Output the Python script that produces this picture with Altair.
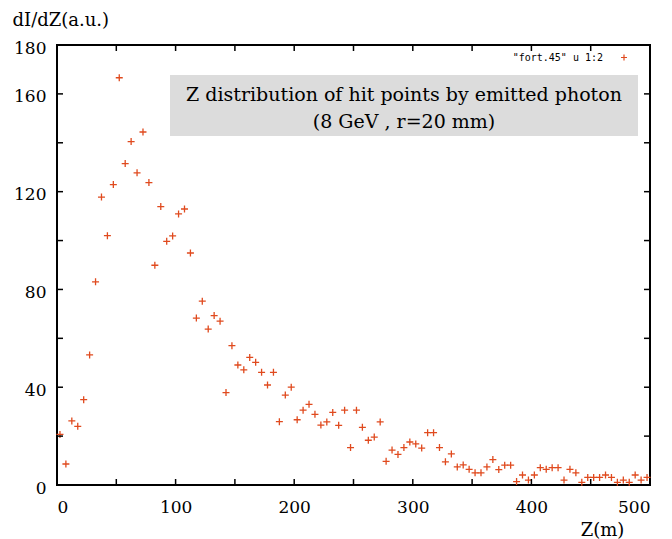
import altair as alt
import pandas as pd

# Z position (m) of each bin and dI/dZ value (a.u.)
z_m = [2.5, 7.5, 12.5, 17.5, 22.5, 27.5, 32.5, 37.5, 42.5, 47.5,
       52.5, 57.5, 62.5, 67.5, 72.5, 77.5, 82.5, 87.5, 92.5, 97.5,
       102.5, 107.5, 112.5, 117.5, 122.5, 127.5, 132.5, 137.5, 142.5, 147.5,
       152.5, 157.5, 162.5, 167.5, 172.5, 177.5, 182.5, 187.5, 192.5, 197.5,
       202.5, 207.5, 212.5, 217.5, 222.5, 227.5, 232.5, 237.5, 242.5, 247.5,
       252.5, 257.5, 262.5, 267.5, 272.5, 277.5, 282.5, 287.5, 292.5, 297.5,
       302.5, 307.5, 312.5, 317.5, 322.5, 327.5, 332.5, 337.5, 342.5, 347.5,
       352.5, 357.5, 362.5, 367.5, 372.5, 377.5, 382.5, 387.5, 392.5, 397.5,
       402.5, 407.5, 412.5, 417.5, 422.5, 427.5, 432.5, 437.5, 442.5, 447.5,
       452.5, 457.5, 462.5, 467.5, 472.5, 477.5, 482.5, 487.5, 492.5, 497.5]
dIdZ = [20.7, 8.6, 26.2, 24.0, 34.9, 53.2, 83.1, 117.8, 102.0, 122.9,
        166.6, 131.5, 140.5, 127.7, 144.4, 123.7, 89.9, 113.9, 99.7, 101.9,
        110.9, 112.9, 94.9, 68.3, 75.2, 63.8, 69.3, 67.0, 37.8, 57.0,
        49.1, 47.1, 52.2, 50.2, 46.1, 40.9, 46.1, 25.9, 36.8, 40.0,
        26.7, 30.6, 33.0, 28.9, 24.5, 25.8, 29.7, 24.4, 30.6, 15.3,
        30.6, 23.6, 18.3, 19.6, 25.8, 9.7, 14.3, 12.5, 15.3, 17.6,
        16.8, 15.1, 21.4, 21.4, 15.3, 9.5, 12.7, 7.4, 8.2, 6.4,
        5.0, 5.0, 7.4, 10.4, 6.3, 8.1, 8.1, 1.4, 4.1, 2.0,
        4.1, 7.1, 6.4, 7.1, 7.1, 2.0, 6.4, 5.0, 1.1, 3.1,
        3.1, 3.1, 4.1, 3.1, 1.1, 2.0, 1.1, 4.1, 2.0, 3.1]

x_ticks = [0, 50, 100, 150, 200, 250, 300, 350, 400, 450, 500]
x_labels = [0, 100, 200, 300, 400, 500]
y_ticks = [0, 20, 40, 60, 80, 100, 120, 140, 160, 180]
y_labels = [0, 40, 80, 120, 160, 180]
title_lines = ["Z distribution of hit points by emitted photon", "(8 GeV , r=20 mm)"]
legend_label = ["\"fort.45\" u 1:2"]

W, H = 593, 440
PT_COLOR = "#e04a1e"
PLUS = "M-1,0L1,0M0,-1L0,1"
SERIF = "DejaVu Serif"

df = pd.DataFrame({"z": z_m, "v": dIdZ})
xs = alt.Scale(domain=[0, 500], nice=False, zero=False)
ys = alt.Scale(domain=[0, 180], nice=False, zero=False)

x_axis = alt.Axis(values=x_labels, title="Z(m)", labelPadding=14,
                  titleX=545, titleY=45, titleAlign="center", titleBaseline="middle")
y_axis = alt.Axis(values=y_labels, title="dI/dZ(a.u.)", labelPadding=11, labelOffset=3,
                  titleAngle=0, titleX=-45, titleY=-25, titleAlign="left",
                  titleBaseline="middle")

points = alt.Chart(df).mark_point(
    shape=PLUS, filled=False, size=49, strokeWidth=1.3, color=PT_COLOR, opacity=1
).encode(
    x=alt.X("z:Q", scale=xs, axis=x_axis),
    y=alt.Y("v:Q", scale=ys, axis=y_axis),
)

xt = pd.DataFrame({"t": x_ticks})
yt = pd.DataFrame({"t": y_ticks})
tick_style = dict(color="black", strokeWidth=1.5)
bottom = alt.Chart(xt).mark_rule(**tick_style).encode(
    x=alt.X("t:Q", scale=xs, axis=x_axis), y=alt.value(H), y2=alt.value(H - 6))
top = alt.Chart(xt).mark_rule(**tick_style).encode(
    x=alt.X("t:Q", scale=xs, axis=x_axis), y=alt.value(0), y2=alt.value(6))
left = alt.Chart(yt).mark_rule(**tick_style).encode(
    y=alt.Y("t:Q", scale=ys, axis=y_axis), x=alt.value(0), x2=alt.value(6))
right = alt.Chart(yt).mark_rule(**tick_style).encode(
    y=alt.Y("t:Q", scale=ys, axis=y_axis), x=alt.value(W), x2=alt.value(W - 6))

one = pd.DataFrame({"a": [0]})
box = alt.Chart(one).mark_rect(color="#dcdcdc").encode(
    x=alt.value(113), x2=alt.value(581), y=alt.value(30), y2=alt.value(91))
t1 = alt.Chart(one).mark_text(font=SERIF, fontSize=19, color="black",
                              align="center", baseline="middle").encode(
    x=alt.value(347), y=alt.value(50), text=alt.value(title_lines[0]))
t2 = alt.Chart(one).mark_text(font=SERIF, fontSize=19, color="black",
                              align="center", baseline="middle").encode(
    x=alt.value(347), y=alt.value(77), text=alt.value(title_lines[1]))

leg_text = alt.Chart(one).mark_text(font="DejaVu Sans Mono", fontSize=10, color="black",
                                    align="right", baseline="middle").encode(
    x=alt.value(546), y=alt.value(12.5), text=alt.value(legend_label[0]))
leg_sym = alt.Chart(one).mark_point(shape=PLUS, filled=False, size=36, strokeWidth=1.2,
                                    color=PT_COLOR, opacity=1).encode(
    x=alt.value(567), y=alt.value(12.5))

chart = alt.layer(points, box, t1, t2, leg_text, leg_sym, bottom, top, left, right).properties(
    width=W, height=H,
    autosize=alt.AutoSizeParams(type="none"),
    padding={"left": 57, "top": 45, "right": 22, "bottom": 54},
    background="white",
).configure_view(
    stroke="black", strokeWidth=2
).configure_axis(
    grid=False, domain=False, ticks=False,
    labelFont=SERIF, labelFontSize=17, labelColor="black",
    titleFont=SERIF, titleFontSize=18, titleFontWeight="normal", titleColor="black",
)

chart.save("out.html", embed_options={"renderer": "svg", "actions": False})
